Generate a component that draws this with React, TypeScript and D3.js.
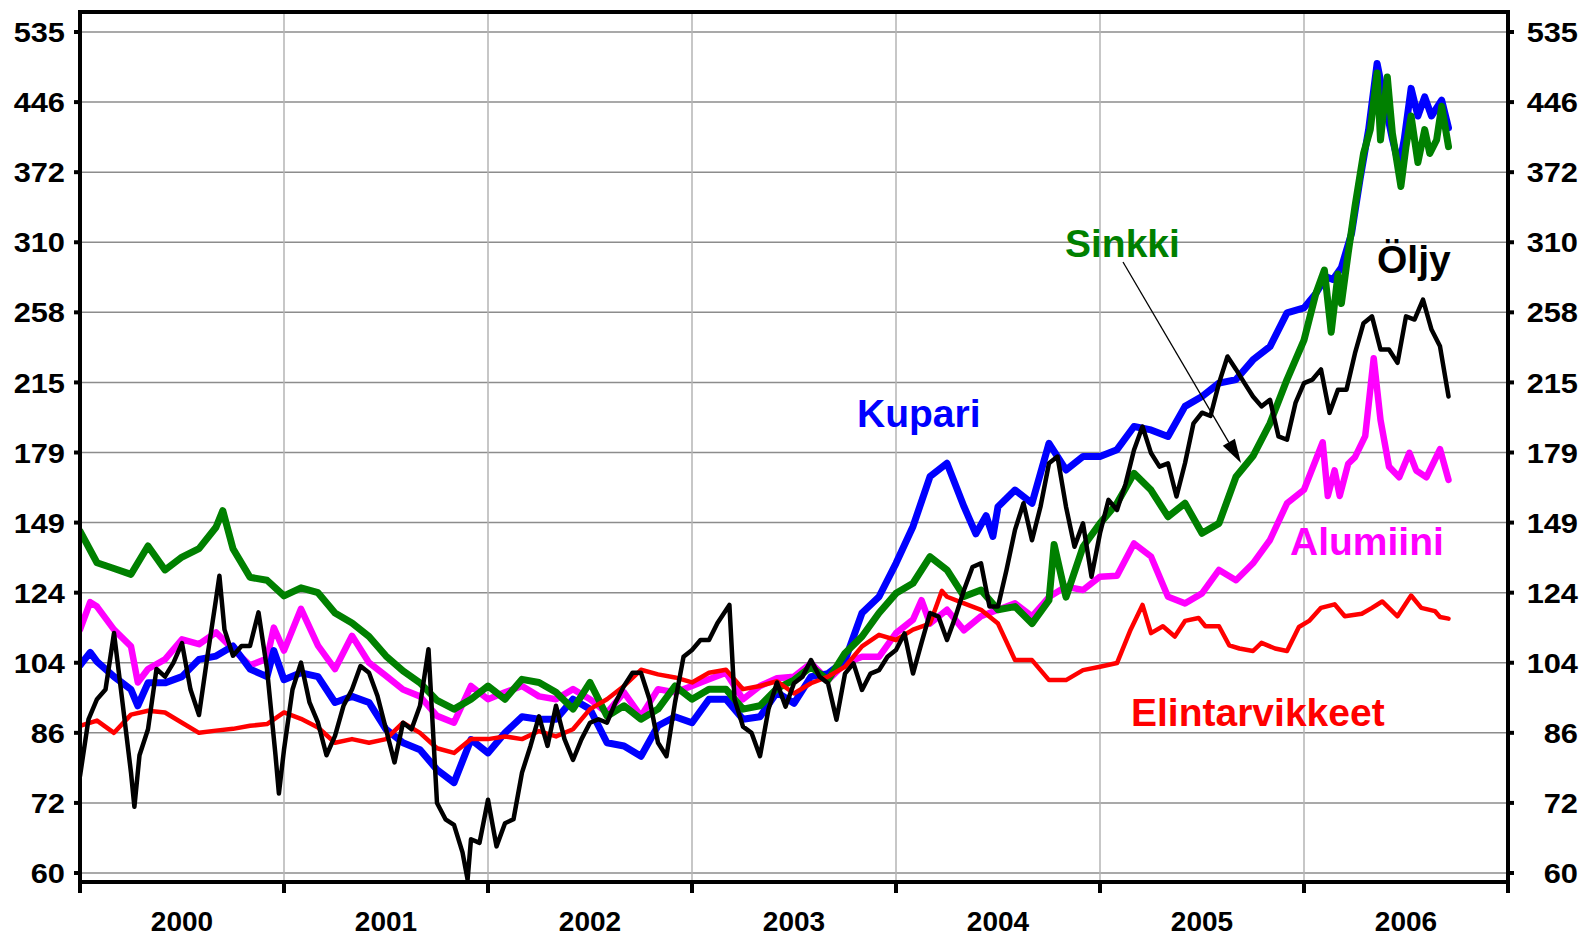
import React, { useRef, useEffect } from "react";
import * as d3 from "d3";

// months since Jan 2000, index value
const kupari: [number, number][] = [
  [0, 103], [0.6, 106.5], [1, 104], [2, 100], [3, 96.7], [3.4, 92.7], [4, 98.4], [5, 98.4], [6, 100], [7, 104.6],
  [8, 105.5], [9, 108.3], [10, 102], [11, 100], [11.4, 107], [12, 99.2], [13, 101], [14, 100], [15, 93.5], [16, 95],
  [17, 93.5], [18, 87.2], [19, 84.2], [20, 82.7], [21, 78.5], [22, 75.9], [23, 84.9], [24, 82], [25, 86.4], [26, 90.1],
  [27, 89.5], [28, 89.5], [29, 94.3], [30, 91.9], [31, 84.2], [32, 83.5], [33, 81.3], [34, 88], [35, 90.1], [36, 88.7],
  [37, 94.3], [38, 94.3], [39, 89.5], [40, 90.1], [41, 96], [42, 93.3], [43, 100], [44, 100.8], [45, 104.3], [46, 118],
  [47, 123.1], [48, 134.3], [49, 147.8], [50, 168.3], [51, 174.2], [52, 155.6], [52.7, 145], [53.3, 152], [53.7, 144],
  [54, 155.6], [55, 162.5], [56, 157], [57, 183.5], [58, 171.2], [59, 177.3], [60, 177.3], [61, 180.5], [62, 191.7],
  [63, 190], [64, 186.8], [65, 202], [66, 207.3], [67, 214.6], [68, 216.6], [69, 228], [70, 236], [71, 257.6], [72, 261],
  [72.7, 271], [73.3, 283], [73.7, 281], [74.2, 290], [74.8, 317], [75.3, 365], [75.8, 415], [76.3, 493], [76.8, 441],
  [77.2, 405], [77.6, 377], [77.9, 405], [78.3, 462], [78.7, 430], [79.1, 452], [79.5, 430], [80.1, 448], [80.5, 417],
];

const alumiini: [number, number][] = [
  [0, 113], [0.6, 121.4], [1, 120], [2, 113], [3, 108.2], [3.4, 98.5], [4, 102], [5, 104.6], [6, 110.2], [7, 108.8],
  [8, 112.2], [9, 107.4], [10, 103], [11, 104.8], [11.4, 113.6], [12, 107], [13, 119.3], [14, 108.4], [15, 102], [16, 111.2],
  [17, 103.7], [18, 100.2], [19, 96.7], [20, 95], [21, 90.3], [22, 88.7], [23, 97.6], [24, 94.3], [25, 96], [26, 97.6],
  [27, 95], [28, 94.3], [29, 96.8], [30, 94.3], [31, 91], [32, 96], [33, 90.2], [34, 96.8], [35, 96], [36, 97.6],
  [37, 99.3], [38, 101], [39, 94.3], [40, 97.6], [41, 99.6], [42, 100], [43, 103.5], [44, 99.1], [45, 103.5], [46, 105.3],
  [47, 105.3], [48, 112], [49, 116], [49.5, 122], [50, 114.8], [51, 119], [52, 112.8], [53, 117], [54, 119], [55, 121],
  [56, 117], [57, 123], [58, 126.4], [59, 125.3], [60, 129.7], [61, 130], [62, 141.4], [63, 136.7], [64, 123.1], [65, 121],
  [66, 124.2], [67, 132], [68, 128.5], [69, 134.3], [70, 142.7], [71, 157], [72, 162.6], [73.1, 184], [73.4, 160],
  [73.8, 171], [74.1, 160], [74.6, 174], [75, 177], [75.6, 187], [76.1, 229], [76.5, 195], [77, 172.7], [77.6, 168],
  [78.2, 179], [78.6, 171], [79.2, 168], [80, 180.7], [80.5, 166.8],
];

const sinkki: [number, number][] = [
  [0, 146], [1, 134.5], [2, 132.5], [3, 130.5], [4, 140.5], [5, 132], [6, 136.5], [7, 139.5], [8, 147.5], [8.4, 154],
  [9, 139.5], [10, 129.5], [11, 128.5], [12, 123.4], [13, 126], [14, 124.4], [15, 118], [16, 115], [17, 111], [18, 105.5],
  [19, 101.5], [20, 98.4], [21, 94], [22, 91.9], [23, 94.3], [24, 97.6], [25, 94.3], [26, 99.3], [27, 98.5], [28, 96],
  [29, 91.9], [30, 98.5], [31, 90.2], [32, 92.7], [33, 89.5], [34, 91.9], [35, 97.6], [36, 94.3], [37, 96.8], [38, 96.8],
  [39, 91.9], [40, 92.7], [41, 97], [42, 99.1], [43, 102.6], [44, 99.1], [45, 106.3], [46, 111], [47, 118], [48, 124.2],
  [49, 127.5], [50, 136.6], [51, 132], [52, 123.2], [53, 125.3], [54, 119], [55, 120], [56, 114.8], [57, 122], [57.3, 141],
  [58, 123], [59, 140.2], [60, 149], [61, 157], [62, 169.7], [63, 162.5], [64, 151.6], [65, 157], [66, 145.2], [67, 149],
  [68, 168.2], [69, 177.5], [70, 193.3], [71, 216.6], [72, 240], [72.7, 271], [73.2, 288], [73.6, 245], [74, 285],
  [74.2, 264], [74.6, 301], [75, 340], [75.5, 390], [75.9, 415], [76.3, 481], [76.5, 404], [76.9, 476], [77.2, 411],
  [77.7, 358], [78, 397], [78.3, 430], [78.7, 381], [79.1, 415], [79.4, 390], [79.8, 404], [80.1, 441], [80.5, 397],
];

const elintarvikkeet: [number, number][] = [
  [0, 88], [1, 89.2], [2, 86.4], [3, 90.6], [4, 91.5], [5, 91.1], [6, 88.7], [7, 86.4], [8, 86.9], [9, 87.3],
  [10, 88], [11, 88.4], [12, 91.1], [13, 89.6], [14, 87.6], [15, 84.2], [16, 85], [17, 84.2], [18, 85], [19, 88.7],
  [20, 86.4], [21, 83], [22, 82], [23, 85], [24, 85], [25, 85.6], [26, 85], [27, 86.8], [28, 85.6], [29, 87.2],
  [30, 91.9], [31, 94.3], [32, 97.6], [33, 101.8], [34, 100.6], [35, 99.8], [36, 98.5], [37, 101], [38, 101.8], [39, 96.8],
  [40, 97.6], [41, 98.8], [42, 95.7], [43, 98.3], [44, 100], [45, 102.6], [46, 108.2], [47, 111.5], [48, 110], [49, 113],
  [50, 114.8], [50.7, 125], [51, 123.1], [52, 121], [53, 119], [54, 114.8], [55, 104.4], [56, 104.4], [57, 99.1], [58, 99.1],
  [59, 101.7], [60, 102.6], [61, 103.6], [61.8, 113], [62.5, 120.5], [63, 112], [63.7, 114], [64.4, 111], [65, 115.6],
  [65.8, 116.5], [66.2, 114], [67, 114], [67.6, 108.5], [68.2, 107.6], [69, 106.9], [69.5, 109.2], [70.3, 107.6], [71, 106.9],
  [71.7, 113.8], [72.3, 115.6], [73, 119.6], [73.8, 120.7], [74.4, 117], [75.4, 117.8], [76, 119.6], [76.6, 121.6],
  [77.5, 117], [78.3, 123.5], [78.9, 119.6], [79.7, 118.6], [80, 116.8], [80.5, 116.3],
];

const oljy: [number, number][] = [
  [0, 77.2], [0.5, 89.5], [1, 94.3], [1.5, 96.7], [2, 112], [2.5, 93.5], [3, 77.9], [3.2, 71.3], [3.5, 81.5], [4, 87.2],
  [4.5, 102], [5, 100], [5.5, 103.7], [6, 109.1], [6.5, 96.7], [7, 90.5], [7.5, 105.6], [8, 122.3], [8.2, 130], [8.5, 113],
  [9, 105.6], [9.5, 108.3], [10, 108.3], [10.5, 118.2], [11, 102], [11.5, 81.5], [11.7, 73.8], [12, 82.7], [12.5, 96.7],
  [13, 103.7], [13.5, 93.5], [14, 88.7], [14.5, 81.5], [15, 85.7], [15.5, 92.7], [16, 96.7], [16.5, 102.8], [17, 101],
  [17.5, 95.1], [18, 87.2], [18.5, 80], [19, 88.7], [19.5, 87.2], [20, 92.7], [20.5, 107.4], [21, 72], [21.5, 69], [22, 68],
  [22.5, 63.3], [22.8, 59], [23, 65.5], [23.5, 64.9], [24, 72.6], [24.5, 64.3], [25, 68.3], [25.5, 69], [26, 77.9],
  [26.5, 83.5], [27, 90.2], [27.5, 83.5], [28, 92.7], [28.5, 85], [29, 80.5], [29.5, 85], [30, 88.7], [30.5, 89.5],
  [31, 88.7], [31.5, 93.5], [32, 97.6], [32.5, 101], [33, 101], [33.5, 94.3], [34, 84.2], [34.5, 81.3], [35, 93.5],
  [35.5, 105.3], [36, 107.2], [36.5, 110], [37, 110], [37.5, 115], [38.2, 120.5], [38.5, 94.3], [39, 87.8], [39.5, 86.4],
  [40, 81.3], [40.5, 91.9], [41, 98.5], [41.5, 92.5], [42, 98.3], [42.5, 100], [43, 104.4], [43.5, 100], [44, 98.3],
  [44.5, 89.4], [45, 100.8], [45.5, 103.5], [46, 96.6], [46.5, 100.8], [47, 101.7], [47.5, 105.3], [48, 107.2],
  [48.5, 111.9], [49, 100.8], [49.5, 109.2], [50, 118], [50.5, 116.9], [51, 110], [51.5, 116.9], [52, 125.3], [52.5, 133],
  [53, 134.3], [53.5, 120], [54, 120], [54.5, 132], [55, 146.5], [55.5, 157], [56, 142.6], [56.5, 155.6], [57, 174.2],
  [57.5, 177.3], [58, 155.6], [58.5, 140.2], [59, 149], [59.5, 129.7], [60, 145.2], [60.5, 158.4], [61, 154.3], [61.5, 165],
  [62, 180.3], [62.5, 191.7], [63, 178.9], [63.5, 172.7], [64, 174.2], [64.5, 159.8], [65, 174.2], [65.5, 193.3],
  [66, 198.7], [66.5, 197], [67, 214.6], [67.5, 230], [68, 222.4], [68.5, 214.6], [69, 207.3], [69.5, 202], [70, 205.5],
  [70.5, 186.8], [71, 185.2], [71.5, 203.8], [72, 214.6], [72.5, 216.6], [73, 222.4], [73.5, 198.6], [74, 211], [74.5, 211],
  [75, 232], [75.5, 250.8], [76, 255.3], [76.5, 234.2], [77, 234.2], [77.5, 226.2], [78, 255.3], [78.5, 253.2],
  [79, 266.7], [79.5, 246.7], [80, 236.2], [80.5, 207.3],
];

const years = ["2000", "2001", "2002", "2003", "2004", "2005", "2006"];
const tickLabels = ["60", "72", "86", "104", "124", "149", "179", "215", "258", "310", "372", "446", "535"];

const series = [
  { name: "Alumiini", data: alumiini, color: "#ff00ff", width: 6.5 },
  { name: "Kupari", data: kupari, color: "#0000ff", width: 7 },
  { name: "Sinkki", data: sinkki, color: "#008000", width: 7 },
  { name: "Elintarvikkeet", data: elintarvikkeet, color: "#ff0000", width: 4.5 },
  { name: "Öljy", data: oljy, color: "#000000", width: 4.5 },
];

const labels = [
  { text: "Kupari", x: 857, y: 427, color: "#0000ff" },
  { text: "Sinkki", x: 1065, y: 257, color: "#008000" },
  { text: "Öljy", x: 1377, y: 273, color: "#000000" },
  { text: "Alumiini", x: 1290, y: 555, color: "#ff00ff" },
  { text: "Elintarvikkeet", x: 1131, y: 726, color: "#ff0000" },
];

const FONT = "Arial, 'Liberation Sans', Helvetica, sans-serif";

const App = () => {
  const ref = useRef(null);

  useEffect(() => {
    const left = 80, right = 1508, top = 12, bottom = 882;
    const svg = d3.select(ref.current);
    svg.selectAll("*").remove();

    const x = d3.scaleLinear().domain([0, 84]).range([left, right]);
    const y = d3.scaleLog().domain([60, 535]).range([873, 32]);
    const tickValues = tickLabels.map((_, i) => 60 * Math.pow(1.2, i));

    svg.append("defs").append("clipPath").attr("id", "plot")
      .append("rect").attr("x", left).attr("y", top)
      .attr("width", right - left).attr("height", bottom - top);

    // grid
    svg.append("g").selectAll("line").data(tickValues).enter().append("line")
      .attr("x1", left).attr("x2", right)
      .attr("y1", (d) => y(d)).attr("y2", (d) => y(d))
      .attr("stroke", "#8c8c8c").attr("stroke-width", 1.5);
    svg.append("g").selectAll("line").data(d3.range(1, 7)).enter().append("line")
      .attr("x1", (d) => x(d * 12)).attr("x2", (d) => x(d * 12))
      .attr("y1", top).attr("y2", bottom)
      .attr("stroke", "#b4b4b4").attr("stroke-width", 1.5);

    // series
    const line = d3.line<[number, number]>()
      .x((d) => x(d[0]))
      .y((d) => y(d[1]));
    const lines = svg.append("g").attr("clip-path", "url(#plot)");
    series.forEach((s) => {
      lines.append("path")
        .attr("d", line(s.data))
        .attr("fill", "none")
        .attr("stroke", s.color)
        .attr("stroke-width", s.width)
        .attr("stroke-linejoin", "round")
        .attr("stroke-linecap", "round");
    });

    // frame and ticks
    svg.append("rect")
      .attr("x", left).attr("y", top)
      .attr("width", right - left).attr("height", bottom - top)
      .attr("fill", "none").attr("stroke", "#000").attr("stroke-width", 4);

    const yTicks = svg.append("g");
    const tickText = (tx: number, ty: number, s: string) => {
      yTicks.append("g").attr("transform", `translate(${tx},${ty}) scale(1.1,1)`)
        .append("text").attr("dy", "0.36em").attr("text-anchor", "end")
        .attr("font-family", FONT).attr("font-weight", "bold").attr("font-size", 28)
        .text(s);
    };
    tickValues.forEach((v, i) => {
      yTicks.append("line").attr("x1", left - 6).attr("x2", left)
        .attr("y1", y(v)).attr("y2", y(v)).attr("stroke", "#000").attr("stroke-width", 4);
      yTicks.append("line").attr("x1", right).attr("x2", right + 6)
        .attr("y1", y(v)).attr("y2", y(v)).attr("stroke", "#000").attr("stroke-width", 4);
      tickText(65, y(v), tickLabels[i]);
      tickText(1578, y(v), tickLabels[i]);
    });

    const xTicks = svg.append("g");
    d3.range(0, 8).forEach((d) => {
      xTicks.append("line").attr("x1", x(d * 12)).attr("x2", x(d * 12))
        .attr("y1", bottom).attr("y2", bottom + 11)
        .attr("stroke", "#000").attr("stroke-width", 4);
    });
    years.forEach((yr, i) => {
      xTicks.append("text").attr("x", x(i * 12 + 6)).attr("y", 931)
        .attr("text-anchor", "middle")
        .attr("font-family", FONT).attr("font-weight", "bold").attr("font-size", 28)
        .text(yr);
    });

    // series labels
    labels.forEach((l) => {
      svg.append("text").attr("x", l.x).attr("y", l.y)
        .attr("fill", l.color)
        .attr("font-family", FONT).attr("font-weight", "bold").attr("font-size", 39)
        .text(l.text);
    });

    // arrow from Sinkki label
    const ax1 = 1123, ay1 = 262, ax2 = 1241, ay2 = 463;
    const ang = Math.atan2(ay2 - ay1, ax2 - ax1);
    const hl = 24, hw = 7;
    const bx = ax2 - hl * Math.cos(ang), by = ay2 - hl * Math.sin(ang);
    svg.append("line").attr("x1", ax1).attr("y1", ay1).attr("x2", bx).attr("y2", by)
      .attr("stroke", "#000").attr("stroke-width", 1.3);
    svg.append("path")
      .attr("d", `M${ax2},${ay2}L${bx + hw * Math.sin(ang)},${by - hw * Math.cos(ang)}L${bx - hw * Math.sin(ang)},${by + hw * Math.cos(ang)}Z`)
      .attr("fill", "#000");
  }, []);

  return (
    <svg
      ref={ref}
      width={1588}
      height={936}
      style={{ position: "absolute", left: 0, top: 0, background: "#fff" }}
    ></svg>
  );
};

export default App;
